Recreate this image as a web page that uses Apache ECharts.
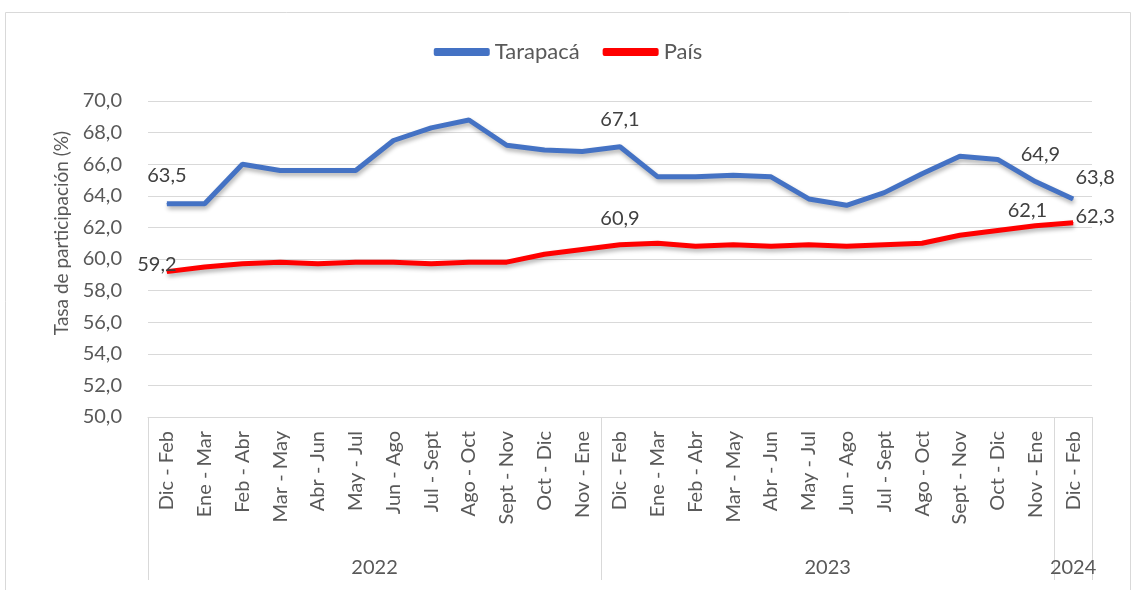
<!DOCTYPE html>
<html>
<head>
<meta charset="utf-8">
<script src="https://cdn.jsdelivr.net/npm/echarts@6/dist/echarts.min.js"></script>
<style>
  html, body { margin: 0; padding: 0; background: #fff; }
  #chart { width: 1136px; height: 590px; }
</style>
</head>
<body>
<div id="chart"></div>
<script>
var periodos = ['Dic - Feb', 'Ene - Mar', 'Feb - Abr', 'Mar - May', 'Abr - Jun', 'May - Jul',
  'Jun - Ago', 'Jul - Sept', 'Ago - Oct', 'Sept - Nov', 'Oct - Dic', 'Nov - Ene',
  'Dic - Feb', 'Ene - Mar', 'Feb - Abr', 'Mar - May', 'Abr - Jun', 'May - Jul',
  'Jun - Ago', 'Jul - Sept', 'Ago - Oct', 'Sept - Nov', 'Oct - Dic', 'Nov - Ene',
  'Dic - Feb'];
var anios = ['2022', '2023', '2024'];
var periodosPorAnio = [12, 12, 1];

var tarapaca = [63.5, 63.5, 66.0, 65.6, 65.6, 65.6, 67.5, 68.3, 68.8, 67.2, 66.9, 66.8,
  67.1, 65.2, 65.2, 65.3, 65.2, 63.8, 63.4, 64.2, 65.4, 66.5, 66.3, 64.9, 63.8];
var pais = [59.2, 59.5, 59.7, 59.8, 59.7, 59.8, 59.8, 59.7, 59.8, 59.8, 60.3, 60.6,
  60.9, 61.0, 60.8, 60.9, 60.8, 60.9, 60.8, 60.9, 61.0, 61.5, 61.8, 62.1, 62.3];

var yTicks = { min: 50, max: 70, interval: 2 };

var fuente = 'Lato, "Liberation Sans", sans-serif';
var gris = '#595959';

// límites y centros de cada año para el eje de agrupación
var limites = [0], centros = [];
periodosPorAnio.forEach(function (n) {
  var ini = limites[limites.length - 1];
  limites.push(ini + n);
  centros.push(ini + n / 2);
});

function coma(v) { return v.toFixed(1).replace('.', ','); }

// etiquetas visibles solo en algunos puntos
var etiquetasT = {
  0: { position: 'top', distance: 18 },
  12: { position: 'top', distance: 17 },
  23: { position: 'top', distance: 17, offset: [5, 0] },
  24: { position: 'top', distance: 11, offset: [22, 0] }
};
var etiquetasP = {
  0: { position: 'top', distance: 5, offset: [-10, 8] },
  12: { position: 'top', distance: 16 },
  23: { position: 'top', distance: 5, offset: [-8, 0] },
  24: { position: 'top', distance: 5, offset: [22, 9] }
};

function construir(valores, etiquetas) {
  return valores.map(function (v, i) {
    var item = { value: v };
    if (etiquetas[i]) {
      item.label = Object.assign({ show: true }, etiquetas[i]);
    }
    return item;
  });
}

var chart = echarts.init(document.getElementById('chart'));

var option = {
  backgroundColor: '#fff',
  textStyle: { fontFamily: fuente },
  graphic: [{
    type: 'rect',
    shape: { x: 5.5, y: 12.5, width: 1125, height: 590 },
    style: { fill: 'none', stroke: '#d9d9d9', lineWidth: 1 },
    silent: true
  }],
  legend: {
    top: 36,
    left: 'center',
    icon: 'roundRect',
    itemWidth: 56,
    itemHeight: 8,
    itemGap: 23,
    textStyle: { fontSize: 22, color: gris, fontFamily: fuente },
    data: ['Tarapacá', 'País']
  },
  grid: { left: 148, right: 44, top: 101, bottom: 173 },
  xAxis: [{
    type: 'category',
    data: periodos,
    boundaryGap: true,
    axisLine: { lineStyle: { color: '#d9d9d9' } },
    axisTick: { show: false },
    axisLabel: { rotate: 90, margin: 14, fontSize: 20, color: gris, interval: 0, fontFamily: fuente }
  }, {
    type: 'value',
    min: 0,
    max: limites[limites.length - 1],
    position: 'bottom',
    axisLine: { show: false },
    splitLine: { show: false },
    axisTick: {
      show: true,
      customValues: limites,
      length: 163,
      lineStyle: { color: '#d9d9d9' }
    },
    axisLabel: {
      customValues: centros,
      margin: 141,
      fontSize: 20,
      color: gris,
      fontFamily: fuente,
      formatter: function (v) {
        var k = centros.indexOf(v);
        return k >= 0 ? anios[k] : '';
      }
    }
  }],
  yAxis: {
    type: 'value',
    min: yTicks.min,
    max: yTicks.max,
    interval: yTicks.interval,
    name: 'Tasa de participación (%)',
    nameLocation: 'middle',
    nameGap: 76,
    nameTextStyle: { fontSize: 19, color: gris, fontFamily: fuente, padding: [0, 0, 0, 52] },
    axisLine: { show: false },
    axisTick: { show: false },
    axisLabel: { fontSize: 20, color: gris, margin: 26, formatter: coma, fontFamily: fuente },
    splitLine: { lineStyle: { color: '#d9d9d9', width: 1 } }
  },
  series: [{
    name: 'Tarapacá',
    type: 'line',
    symbol: 'circle',
    symbolSize: 1,
    showSymbol: true,
    data: construir(tarapaca, etiquetasT),
    itemStyle: { color: '#4472C4' },
    lineStyle: {
      color: '#4472C4', width: 5,
      shadowColor: 'rgba(0,0,0,0.3)', shadowBlur: 4, shadowOffsetY: 3, shadowOffsetX: 1
    },
    label: { fontSize: 20, color: '#404040', formatter: function (p) { return coma(p.value); } },
    z: 3
  }, {
    name: 'País',
    type: 'line',
    symbol: 'circle',
    symbolSize: 1,
    showSymbol: true,
    data: construir(pais, etiquetasP),
    itemStyle: { color: '#FF0000' },
    lineStyle: {
      color: '#FF0000', width: 5,
      shadowColor: 'rgba(0,0,0,0.3)', shadowBlur: 4, shadowOffsetY: 3, shadowOffsetX: 1
    },
    label: { fontSize: 20, color: '#404040', formatter: function (p) { return coma(p.value); } },
    z: 2
  }]
};

chart.setOption(option);
</script>
</body>
</html>
